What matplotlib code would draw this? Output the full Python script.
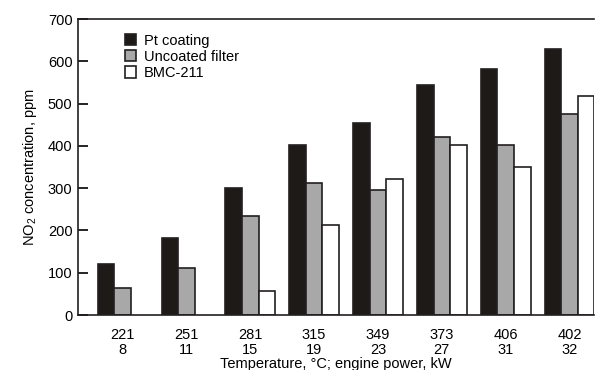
import numpy as np
import matplotlib.pyplot as plt
from matplotlib.patches import Patch

plt.rcParams['font.family'] = ['Liberation Sans', 'DejaVu Sans']
plt.rcParams['mathtext.fontset'] = 'custom'
plt.rcParams['mathtext.rm'] = 'Liberation Sans'

temps = [221, 251, 281, 315, 349, 373, 406, 402]
power = [8, 11, 15, 19, 23, 27, 31, 32]
pt_coating = [120, 183, 300, 403, 455, 545, 582, 630]
uncoated = [65, 112, 233, 313, 296, 420, 403, 476]
bmc211 = [0, 0, 57, 214, 322, 401, 350, 518]

edge = '#231f20'
fig = plt.figure(figsize=(5.95, 3.7), dpi=100)
ax = fig.add_axes([0.131, 0.1486, 0.868, 0.80])

x = np.arange(len(temps))
w = 0.26
ax.bar(x - w, pt_coating, w, color='#1e1a17', edgecolor=edge, linewidth=1.2, label='Pt coating')
ax.bar(x, uncoated, w, color='#a8a8a8', edgecolor=edge, linewidth=1.2, label='Uncoated filter')
bm = np.array(bmc211, dtype=float)
ax.bar(x[bm > 0] + w, bm[bm > 0], w, color='white', edgecolor=edge, linewidth=1.2, label='BMC-211')

ax.set_xlim(-0.70, 7.39)
ax.set_ylim(0, 700)
ax.set_yticks(range(0, 701, 100))
ax.set_xticks(x)
ax.set_xticklabels([f'{t}\n{p}' for t, p in zip(temps, power)], linespacing=1.1)
ax.tick_params(axis='x', length=0, pad=9, labelsize=10.5)
ax.tick_params(axis='y', direction='in', length=7, width=1.2, labelsize=10.5, pad=4)
for s in ['left', 'top', 'bottom']:
    ax.spines[s].set_linewidth(1.2)
    ax.spines[s].set_color(edge)
ax.spines['right'].set_visible(False)

ax.set_ylabel('NO$_2$ concentration, ppm', fontsize=10.5, labelpad=6)
ax.set_xlabel('Temperature, °C; engine power, kW', fontsize=10.5, labelpad=0)

handles = [Patch(facecolor='#1e1a17', edgecolor=edge, linewidth=1.2),
           Patch(facecolor='#a8a8a8', edgecolor=edge, linewidth=1.2),
           Patch(facecolor='white', edgecolor=edge, linewidth=1.2)]
ax.legend(handles, ['Pt coating', 'Uncoated filter', 'BMC-211'], loc='upper left',
          bbox_to_anchor=(0.065, 0.995), frameon=False, fontsize=10.5,
          handlelength=0.8, handleheight=0.8, handletextpad=0.5, labelspacing=0.15)

fig.savefig('out.png', dpi=100)
